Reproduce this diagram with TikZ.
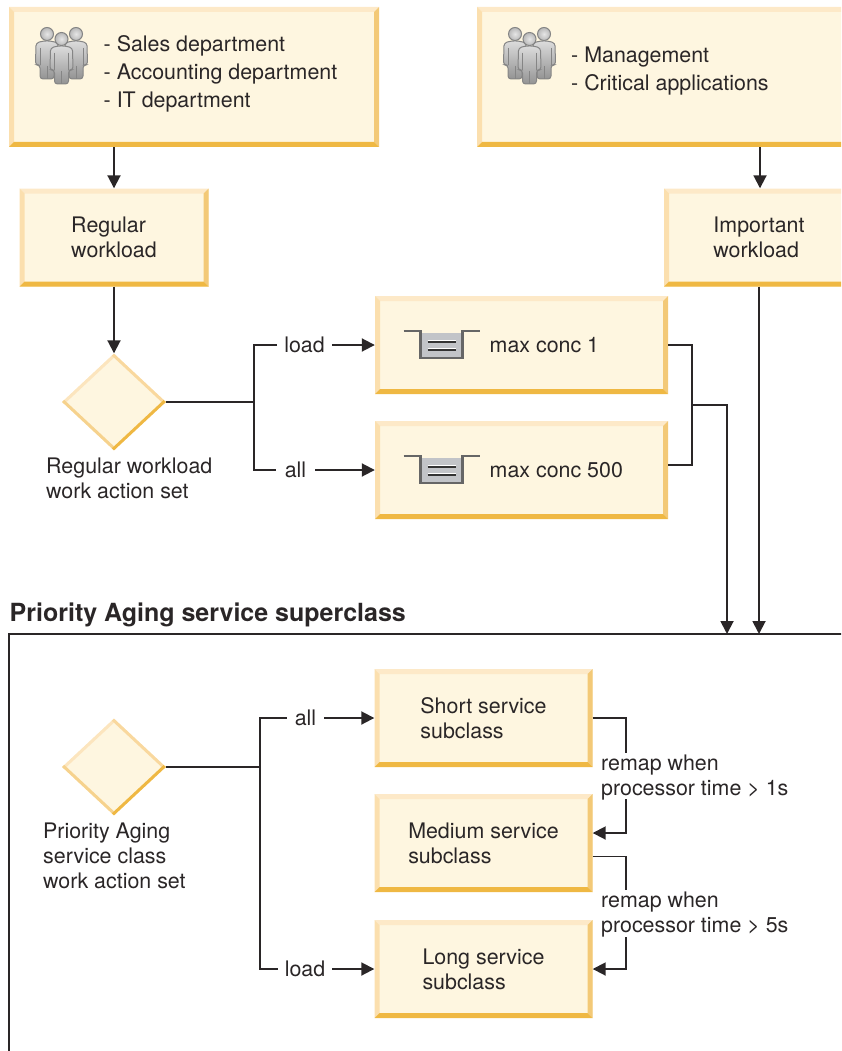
\documentclass[tikz,border=0pt]{standalone}
\usepackage{fontspec}
\setmainfont{TeX Gyre Heros}
\usetikzlibrary{arrows.meta,shapes.geometric}
\definecolor{inkline}{HTML}{2A2627}
\definecolor{boxfill}{HTML}{FEF6E0}
\definecolor{bevtop}{HTML}{FDE9C8}
\definecolor{bevleft}{HTML}{FBDFAE}
\definecolor{bevright}{HTML}{F3C977}
\definecolor{bevbottom}{HTML}{EFB843}
\definecolor{figgray}{HTML}{B8B8B8}
\definecolor{figedge}{HTML}{858585}
\definecolor{queuefill}{HTML}{C2C4C8}
\definecolor{queueedge}{HTML}{666666}
\tikzset{
	bevelbox/.style={
		rectangle, fill=boxfill, inner sep=0pt, align=left,
		path picture={
			\coordinate (nw) at (path picture bounding box.north west);
			\coordinate (ne) at (path picture bounding box.north east);
			\coordinate (sw) at (path picture bounding box.south west);
			\coordinate (se) at (path picture bounding box.south east);
			\fill[bevtop] (nw) -- (ne) -- ([shift={(-5pt,-5pt)}]ne) -- ([shift={(5pt,-5pt)}]nw) -- cycle;
			\fill[bevleft] (nw) -- (sw) -- ([shift={(5pt,5pt)}]sw) -- ([shift={(5pt,-5pt)}]nw) -- cycle;
			\fill[bevright] (ne) -- (se) -- ([shift={(-5pt,5pt)}]se) -- ([shift={(-5pt,-5pt)}]ne) -- cycle;
			\fill[bevbottom] (sw) -- (se) -- ([shift={(-5pt,5pt)}]se) -- ([shift={(5pt,5pt)}]sw) -- cycle;
		}
	},
	actionset/.style={
		diamond, fill=boxfill, inner sep=0pt, minimum width=104pt, minimum height=97pt,
		path picture={
			\draw[bevtop!60!bevleft,line width=6pt] (path picture bounding box.west) -- (path picture bounding box.north);
			\draw[bevleft!70!bevright,line width=6pt] (path picture bounding box.north) -- (path picture bounding box.east);
			\draw[bevleft!40!bevright,line width=6pt] (path picture bounding box.west) -- (path picture bounding box.south);
			\draw[bevbottom,line width=6pt] (path picture bounding box.south) -- (path picture bounding box.east);
		}
	},
	textlabel/.style={inner sep=0pt, align=left, anchor=west},
	flowlabel/.style={inner ysep=0pt, inner xsep=#1},
	flowlabel/.default=7pt,
	link/.style={draw=inkline, line width=1.9pt},
	flow/.style={link, -{Triangle[width=13pt,length=13pt]}},
	person/.pic={
		\path[top color=figgray!50!white, bottom color=figgray!80!black, draw=figedge, line width=1pt, rounded corners=3pt]
			(-4,7) -- (-11,9) -- (-11.5,31) -- (-7,31) -- (-7,45) -- (7,45) -- (7,31) -- (11.5,31) -- (11,9) -- (4,7) -- cycle;
		\draw[figedge, line width=0.6pt] (-7,14) -- (-7,31) (7,14) -- (7,31) (0,32) -- (0,45);
		\path[inner color=figgray!35!white, outer color=figgray, draw=figedge, line width=1pt] (0,0) circle (6.5);
	},
	crowd/.pic={
		\pic at (-14.5,-5) {person};
		\pic at (14.5,-5) {person};
		\pic at (0,0) {person};
	},
	queue/.pic={
		\fill[queuefill] (-21,2) rectangle (21,27);
		\draw[queueedge, line width=2.5pt] (-38,0) -- (-21,0) -- (-21,27) -- (21,27) -- (21,0) -- (38,0);
		\draw[white, line width=1.2pt] (-14,9.5) -- (14,9.5) (-14,17.5) -- (14,17.5);
		\draw[black!80, line width=1.2pt] (-14,11) -- (14,11) (-14,19) -- (14,19);
	}
}
\begin{document}
\begin{tikzpicture}[
		x=1pt,y=-1pt,
		every node/.style={font=\fontsize{21.4}{25}\selectfont, text=inkline},
		looselist/.style={font=\fontsize{21.4}{27.7}\selectfont}
		]
		\useasboundingbox (0,0) rectangle (841,1051);
		\clip (0,0) rectangle (841,1051);

		\node[bevelbox, minimum width=370pt, minimum height=140pt] (deptbox) at (194,77) {};
		\node[bevelbox, minimum width=384pt, minimum height=140pt] (mgmtbox) at (669,77) {};
		\pic at (61.5,39) {crowd};
		\pic at (529.5,39) {crowd};
		\node[textlabel, looselist] (deptlist) at (103.5,74) {- Sales department\\- Accounting department\\- IT department};
		\node[textlabel, looselist] (mgmtlist) at (571,71) {- Management\\- Critical applications};

		\node[bevelbox, minimum width=189pt, minimum height=98pt] (regular) at (114,237.5) {Regular\\workload};
		\node[bevelbox, minimum width=190pt, minimum height=98pt] (important) at (759,237.5) {Important\\workload};
		\node[actionset] (regularset) at (114,402) {};
		\node[textlabel] (regularsetname) at (46,478) {Regular workload\\work action set};

		\node[bevelbox, minimum width=293pt, minimum height=98pt] (maxone) at (521.5,345) {};
		\node[bevelbox, minimum width=293pt, minimum height=98pt] (maxfive) at (521.5,470) {};
		\pic at (441.5,331) {queue};
		\pic at (441.5,456) {queue};
		\node[textlabel] (maxonename) at (489.5,345) {max conc 1};
		\node[textlabel] (maxfivename) at (489.5,470) {max conc 500};
		\node[flowlabel] (regularload) at (304.5,345) {load};
		\node[flowlabel=9pt] (regularall) at (295.5,470) {all};

		\coordinate (regularjoin) at (254,402);
		\coordinate (maxjoin) at (692,405);
		\coordinate (entrymax) at (727,634);
		\coordinate (entryimportant) at (759,634);

		\draw[flow] (deptbox.south -| regular.north) -- (regular.north);
		\draw[flow] ([xshift=1pt]mgmtbox.south -| important.north) -- ([xshift=1pt]important.north);
		\draw[flow] (regular.south) -- (regularset.north);
		\draw[link] (regularset.east) -- (regularjoin);
		\draw[link] (regularload.west) -| (regularjoin) |- (regularall.west);
		\draw[flow] (regularload.east) -- (maxone.west);
		\draw[flow] (regularall.east) -- (maxfive.west);
		\draw[link] (maxone.east) -| (maxjoin) |- ([yshift=5pt]maxfive.east);
		\draw[flow] (maxjoin) -| (entrymax);
		\draw[flow] (important.south) -- (entryimportant);

		\node[textlabel, font=\fontsize{25}{25}\selectfont\bfseries] (superclass) at (9.5,614.5) {Priority Aging service superclass};
		\coordinate (framebottom) at (9,1053);
		\coordinate (frameright) at (843,634);
		\draw[link] (framebottom) |- (frameright);

		\node[actionset] (agingset) at (114,767) {};
		\node[textlabel] (agingsetname) at (43,855.5) {Priority Aging\\service class\\work action set};
		\node[bevelbox, minimum width=218pt, minimum height=98pt] (short) at (483.5,718) {Short service\\subclass};
		\node[bevelbox, minimum width=218pt, minimum height=98pt] (medium) at (483.5,843) {Medium service\\subclass};
		\node[bevelbox, minimum width=218pt, minimum height=98pt] (long) at (483.5,969) {Long service\\subclass};
		\node[flowlabel=8pt] (agingall) at (305.5,718) {all};
		\node[flowlabel] (agingload) at (305,969) {load};
		\node[textlabel] (remapone) at (601,777.5) {remap when\\processor time > 1s};
		\node[textlabel] (remapfive) at (601,915) {remap when\\processor time > 5s};

		\coordinate (agingjoin) at (260,767);
		\coordinate (remaponeup) at (626,752.5);
		\coordinate (remaponedown) at (626,799);
		\coordinate (remapfiveup) at (626,890);
		\coordinate (remapfivedown) at (626,937);

		\draw[link] (agingset.east) -- (agingjoin);
		\draw[link] (agingall.west) -| (agingjoin) |- (agingload.west);
		\draw[flow] (agingall.east) -- (short.west);
		\draw[flow] (agingload.east) -- (long.west);
		\draw[link] (short.east) -| (remaponeup);
		\draw[flow] (remaponedown) |- ([yshift=10pt]medium.east);
		\draw[link] ([yshift=-13.5pt]medium.east) -| (remapfiveup);
		\draw[flow] (remapfivedown) |- (long.east);
\end{tikzpicture}
\end{document}
